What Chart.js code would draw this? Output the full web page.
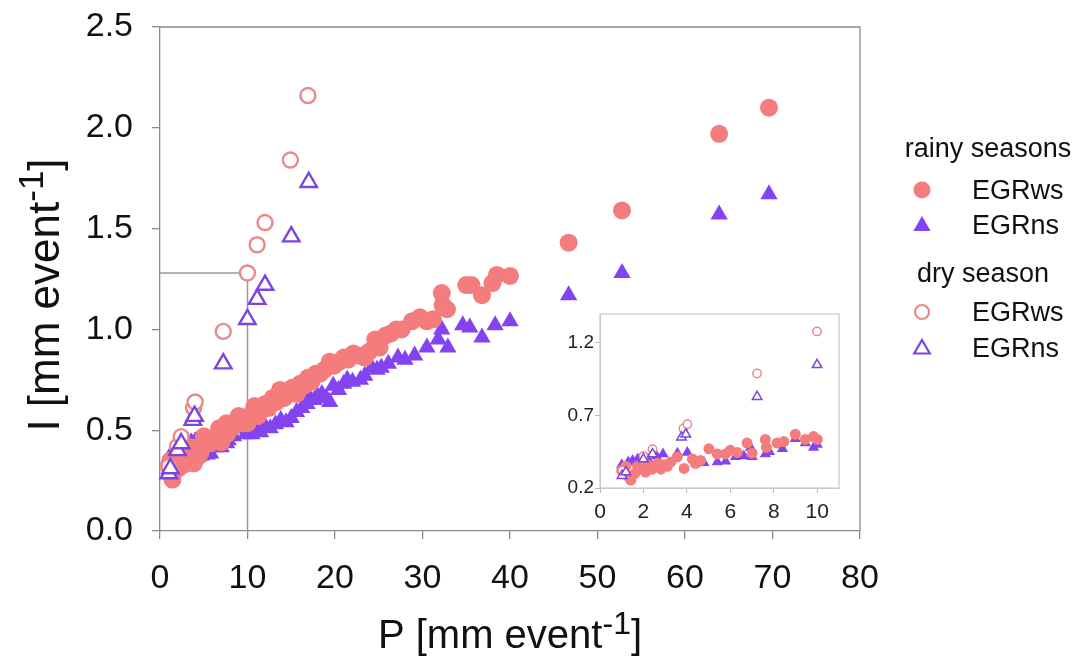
<!DOCTYPE html>
<html>
<head>
<meta charset="utf-8">
<script src="https://cdn.jsdelivr.net/npm/chart.js"></script>
<style>
  html, body { margin: 0; padding: 0; background: #fff; }
  #wrap { position: relative; width: 1081px; height: 662px; }
  #main { position: absolute; left: 0; top: 0; width: 1081px; height: 662px; }
  #inset { position: absolute; left: 550px; top: 300px; width: 300px; height: 235px; }
</style>
</head>
<body>
<div id="wrap">
  <div id="main"><canvas id="mainChart"></canvas></div>
  <div id="inset"><canvas id="insetChart"></canvas></div>
</div>
<script>
// rainy seasons, EGRws (filled circles)
const rainyWsP = [1.0, 1.19, 1.3, 1.42, 1.6, 1.73, 1.9, 2.1, 2.19, 2.4, 2.65, 2.8, 2.95, 3.1, 3.26, 3.56, 3.87, 4.25, 4.4, 4.63,
  5.01, 5.4, 5.78, 6.0, 6.31, 6.77, 7.0, 7.61, 7.66, 8.15, 8.46, 8.99, 9.45, 9.83, 10.0,
  10.4, 10.8, 11.2, 11.6, 12.0, 12.4, 12.9, 13.3, 13.7, 14.2, 14.6, 15.1, 15.6, 16.0, 16.4, 16.9, 17.3, 17.8, 18.3, 18.8,
  19.4, 19.9, 20.5, 21.0, 21.5, 22.1, 22.7, 23.4, 23.9, 24.6, 25.1, 25.8, 26.4, 27.0, 27.6, 28.8, 29.7, 30.5, 31.2,
  32.2, 32.3, 32.8, 35.0, 35.6, 36.8, 38.0, 38.5, 40.0,
  46.7, 52.8, 63.9, 69.6];
const rainyWsI = [0.32, 0.35, 0.28, 0.255, 0.30, 0.35, 0.33, 0.31, 0.36, 0.33, 0.37, 0.33, 0.36, 0.35, 0.38, 0.415, 0.335, 0.40, 0.37, 0.39,
  0.47, 0.435, 0.435, 0.46, 0.445, 0.51, 0.44, 0.535, 0.48, 0.51, 0.52, 0.57, 0.535, 0.555, 0.535,
  0.58, 0.62, 0.57, 0.60, 0.63, 0.61, 0.66, 0.64, 0.70, 0.66, 0.69, 0.71, 0.68, 0.73, 0.72, 0.76, 0.74, 0.78, 0.78, 0.80,
  0.84, 0.82, 0.84, 0.86, 0.85, 0.88, 0.87, 0.86, 0.89, 0.95, 0.91, 0.97, 0.98, 1.00, 1.00, 1.04, 1.06, 1.04, 1.05,
  1.18, 1.12, 1.10, 1.22, 1.22, 1.17, 1.23, 1.27, 1.265,
  1.43, 1.59, 1.97, 2.10];

// rainy seasons, EGRns (filled triangles)
const rainyNsP = [1.0, 1.3, 1.5, 1.73, 2.2, 2.6, 2.9, 3.56, 4.02, 4.4, 4.78, 5.4, 5.78, 6.24, 6.62, 6.93, 7.0, 7.61, 7.8, 8.4,
  8.99, 9.45, 9.83, 10.0,
  10.5, 11.0, 11.5, 12.0, 12.6, 13.2, 13.8, 14.4, 15.0, 15.6, 16.2, 16.8, 17.1, 17.6, 18.0, 18.5, 19.0, 19.4, 19.8,
  20.4, 21.0, 21.4, 22.0, 22.9, 23.4, 24.2, 24.8, 25.3, 26.1, 27.2, 28.0, 29.1, 30.5, 31.8, 32.2, 32.9, 34.6, 35.4,
  36.8, 38.3, 40.0,
  46.7, 52.8, 63.9, 69.6];
const rainyNsI = [0.36, 0.38, 0.39, 0.40, 0.40, 0.42, 0.435, 0.44, 0.445, 0.37, 0.375, 0.38, 0.385, 0.415, 0.42, 0.48, 0.415, 0.435, 0.45, 0.47,
  0.54, 0.51, 0.48, 0.50,
  0.48, 0.50, 0.49, 0.52, 0.51, 0.53, 0.55, 0.54, 0.56, 0.59, 0.61, 0.63, 0.66, 0.65, 0.67, 0.68, 0.66, 0.64, 0.72,
  0.70, 0.73, 0.75, 0.74, 0.75, 0.77, 0.81, 0.80, 0.81, 0.83, 0.86, 0.85, 0.87, 0.91, 0.95, 1.00, 0.91, 1.02, 1.01,
  0.96, 1.02, 1.04,
  1.17, 1.28, 1.57, 1.67];

// dry season, EGRws (open circles)
const dryWsP = [1.03, 2.0, 2.42, 3.84, 4.02, 7.23, 9.99, 11.1, 12.0, 14.9, 16.9];
const dryWsI = [0.32, 0.42, 0.468, 0.61, 0.64, 0.99, 1.28, 1.42, 1.53, 1.84, 2.16];

// dry season, EGRns (open triangles)
const dryNsP = [1.01, 1.19, 2.0, 2.42, 3.75, 3.95, 7.23, 9.99, 11.1, 12.0, 15.0, 17.0];
const dryNsI = [0.285, 0.31, 0.40, 0.434, 0.55, 0.57, 0.83, 1.05, 1.15, 1.22, 1.46, 1.73];

const xTicks = [0, 10, 20, 30, 40, 50, 60, 70, 80];
const yTicks = [0, 0.5, 1.0, 1.5, 2.0, 2.5];
const insetXTicks = [0, 2, 4, 6, 8, 10];
const insetYTicks = [0.2, 0.7, 1.2];
const insetMaxP = 10;   // inset shows events up to P = 10
const refP = 10;
const refI = 1.28;

const wsColor = '#f47c7c';
const nsColor = '#8443f0';
const wsOpenColor = '#e8898b';
const nsOpenColor = '#7d44e2';
const axisGrey = '#8a8a8a';
const FONT = "'Liberation Sans', Arial, sans-serif";

Chart.defaults.font.family = FONT;
Chart.defaults.color = '#111';

function pts(xs, ys, maxX) {
  return xs.map((x, i) => ({ x: x, y: ys[i] })).filter(p => maxX === undefined || p.x <= maxX);
}

// s = marker sizes; lower "order" is drawn on top
function makeSets(s, maxX) {
  return [
    { label: 'EGRns dry', data: pts(dryNsP, dryNsI, maxX), pointStyle: 'triangle', pointRadius: s.openTri,
      backgroundColor: '#fff', borderColor: nsOpenColor, pointBorderWidth: s.line, order: 0 },
    { label: 'EGRws dry', data: pts(dryWsP, dryWsI, maxX), pointStyle: 'circle', pointRadius: s.openCirc,
      backgroundColor: '#fff', borderColor: wsOpenColor, pointBorderWidth: s.line, order: 1 },
    { label: 'EGRws rainy', data: pts(rainyWsP, rainyWsI, maxX), pointStyle: 'circle', pointRadius: s.circ,
      backgroundColor: wsColor, borderColor: wsColor, pointBorderWidth: 0, order: 2 },
    { label: 'EGRns rainy', data: pts(rainyNsP, rainyNsI, maxX), pointStyle: 'triangle', pointRadius: s.tri,
      backgroundColor: nsColor, borderColor: nsColor, pointBorderWidth: 0, order: 3 }
  ];
}

function drawMarker(ctx, style, x, y, r, fill, stroke, lw) {
  ctx.save();
  ctx.beginPath();
  if (style === 'circle') {
    ctx.arc(x, y, r, 0, Math.PI * 2);
  } else {
    for (let k = 0; k < 3; k++) {
      const a = k * 2 * Math.PI / 3;
      const px = x + Math.sin(a) * r, py = y - Math.cos(a) * r;
      if (k === 0) ctx.moveTo(px, py); else ctx.lineTo(px, py);
    }
    ctx.closePath();
  }
  ctx.fillStyle = fill;
  ctx.fill();
  if (lw) { ctx.lineWidth = lw; ctx.strokeStyle = stroke; ctx.stroke(); }
  ctx.restore();
}

function drawTitle(ctx, main, sup, tail, size) {
  // text with a superscript, centred on 0 at baseline 0
  ctx.font = size + 'px ' + FONT;
  const w1 = ctx.measureText(main).width;
  ctx.font = Math.round(size * 0.8) + 'px ' + FONT;
  const w2 = ctx.measureText(sup).width;
  ctx.font = size + 'px ' + FONT;
  const w3 = ctx.measureText(tail).width;
  let x = -(w1 + w2 + w3) / 2;
  ctx.fillText(main, x, 0);
  x += w1;
  ctx.font = Math.round(size * 0.8) + 'px ' + FONT;
  ctx.fillText(sup, x, -size * 0.36);
  x += w2;
  ctx.font = size + 'px ' + FONT;
  ctx.fillText(tail, x, 0);
}

const mainDecor = {
  id: 'mainDecor',
  beforeDatasetsDraw(chart) {
    const { ctx, scales: { x, y } } = chart;
    ctx.save();
    ctx.strokeStyle = '#999';
    ctx.lineWidth = 1.5;
    ctx.beginPath();
    ctx.moveTo(x.getPixelForValue(0), y.getPixelForValue(refI));
    ctx.lineTo(x.getPixelForValue(refP), y.getPixelForValue(refI));
    ctx.lineTo(x.getPixelForValue(refP), y.getPixelForValue(0));
    ctx.stroke();
    // top and right frame
    const a = chart.chartArea;
    ctx.strokeStyle = axisGrey;
    ctx.lineWidth = 1.3;
    ctx.beginPath();
    ctx.moveTo(a.left, a.top);
    ctx.lineTo(a.right, a.top);
    ctx.lineTo(a.right, a.bottom);
    ctx.stroke();
    ctx.restore();
  },
  afterDraw(chart) {
    const ctx = chart.ctx;
    ctx.save();
    ctx.fillStyle = '#111';
    ctx.textBaseline = 'alphabetic';
    ctx.textAlign = 'left';
    // axis titles
    ctx.save();
    ctx.translate(510, 648);
    drawTitle(ctx, 'P [mm event', '-1', ']', 40);
    ctx.restore();
    ctx.save();
    ctx.translate(59, 295);
    ctx.rotate(-Math.PI / 2);
    drawTitle(ctx, 'I [mm event', '-1', ']', 44);
    ctx.restore();
    // legend
    ctx.font = '27px ' + FONT;
    ctx.textAlign = 'center';
    ctx.fillText('rainy seasons', 988, 157);
    ctx.fillText('dry season', 983, 282);
    ctx.textAlign = 'left';
    ctx.fillText('EGRws', 972, 199);
    ctx.fillText('EGRns', 972, 234);
    ctx.fillText('EGRws', 972, 321);
    ctx.fillText('EGRns', 972, 357);
    drawMarker(ctx, 'circle', 922, 190, 8.5, wsColor, null, 0);
    drawMarker(ctx, 'triangle', 922, 226, 10, nsColor, null, 0);
    drawMarker(ctx, 'circle', 922, 312, 7, '#fff', wsOpenColor, 2.2);
    drawMarker(ctx, 'triangle', 922, 349, 9, '#fff', nsOpenColor, 2.2);
    ctx.restore();
  }
};

const insetFrame = {
  id: 'insetFrame',
  beforeDatasetsDraw(chart) {
    const a = chart.chartArea;
    const ctx = chart.ctx;
    ctx.save();
    ctx.strokeStyle = '#c9c9c9';
    ctx.lineWidth = 1.2;
    ctx.strokeRect(a.left, a.top, a.right - a.left, a.bottom - a.top);
    ctx.restore();
  }
};

new Chart(document.getElementById('mainChart'), {
  type: 'scatter',
  data: { datasets: makeSets({ circ: 9, tri: 10, openCirc: 7.5, openTri: 9.5, line: 2.4 }) },
  options: {
    responsive: true,
    maintainAspectRatio: false,
    animation: false,
    clip: false,
    layout: { padding: { left: 0, right: 221, top: 27, bottom: 0 } },
    plugins: { legend: { display: false }, tooltip: { enabled: false } },
    scales: {
      x: {
        type: 'linear', min: 0, max: 80,
        afterBuildTicks: s => { s.ticks = xTicks.map(v => ({ value: v })); },
        afterFit: s => { s.height = 131; s.paddingLeft = 0; s.paddingRight = 0; },
        grid: { drawOnChartArea: false, color: axisGrey, tickLength: 8, lineWidth: 1.3 },
        border: { color: axisGrey, width: 1.3 },
        ticks: { font: { size: 34 }, color: '#111', padding: 19, maxRotation: 0, autoSkip: false }
      },
      y: {
        type: 'linear', min: 0, max: 2.5,
        afterBuildTicks: s => { s.ticks = yTicks.map(v => ({ value: v })); },
        afterFit: s => { s.width = 160; s.paddingTop = 0; s.paddingBottom = 0; },
        grid: { drawOnChartArea: false, color: axisGrey, tickLength: 8, lineWidth: 1.3 },
        border: { color: axisGrey, width: 1.3 },
        ticks: { font: { size: 34 }, color: '#111', padding: 19, callback: v => v.toFixed(1) }
      }
    }
  },
  plugins: [mainDecor]
});

new Chart(document.getElementById('insetChart'), {
  type: 'scatter',
  data: { datasets: makeSets({ circ: 5.5, tri: 6.5, openCirc: 4.2, openTri: 5.5, line: 1.5 }, insetMaxP) },
  options: {
    responsive: true,
    maintainAspectRatio: false,
    animation: false,
    layout: { padding: { left: 0, right: 11, top: 14, bottom: 0 } },
    plugins: { legend: { display: false }, tooltip: { enabled: false } },
    scales: {
      x: {
        type: 'linear', min: 0, max: 11,
        afterBuildTicks: s => { s.ticks = insetXTicks.map(v => ({ value: v })); },
        afterFit: s => { s.height = 47; s.paddingLeft = 0; s.paddingRight = 0; },
        grid: { drawOnChartArea: false, color: '#bbb', tickLength: 5 },
        border: { color: '#c9c9c9' },
        ticks: { font: { size: 21 }, color: '#222', padding: 7, maxRotation: 0, autoSkip: false }
      },
      y: {
        type: 'linear', min: 0.2, max: 1.4,
        afterBuildTicks: s => { s.ticks = insetYTicks.map(v => ({ value: v })); },
        afterFit: s => { s.width = 50; s.paddingTop = 0; s.paddingBottom = 0; },
        grid: { drawOnChartArea: false, color: '#bbb', tickLength: 5 },
        border: { color: '#c9c9c9' },
        ticks: { font: { size: 19 }, color: '#222', padding: 1, callback: v => v.toFixed(1) }
      }
    }
  },
  plugins: [insetFrame]
});
</script>
</body>
</html>
